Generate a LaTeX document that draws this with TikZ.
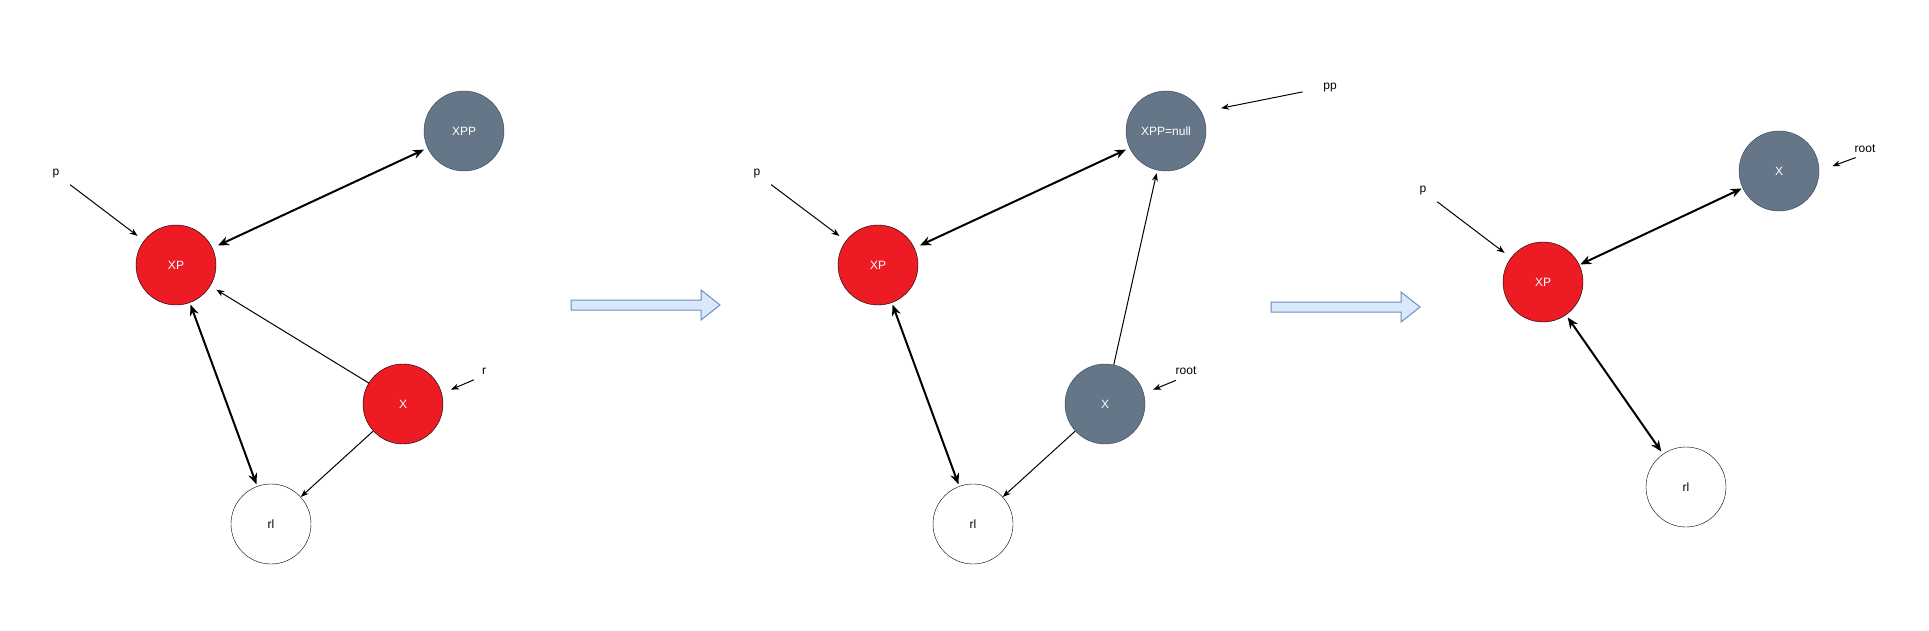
\documentclass[tikz,border=0pt]{standalone}
\usepackage{fontspec}
\setmainfont{Liberation Sans}
\usetikzlibrary{positioning}
\usetikzlibrary{arrows.meta}
\definecolor{xred}{HTML}{ED1C24}
\definecolor{xgray}{HTML}{647687}
\definecolor{xgraydraw}{HTML}{314354}
\definecolor{shiftfill}{HTML}{DAE8FC}
\definecolor{shiftdraw}{HTML}{6C8EBF}

\begin{document}
\begin{tikzpicture}[
            x=1pt, y=-1pt,
            font=\fontsize{12}{14}\selectfont,
            rednode/.style={circle, draw=black, fill=xred, text=white, minimum size=80pt, inner sep=0pt},
            graynode/.style={circle, draw=xgraydraw, fill=xgray, text=white, minimum size=80pt, inner sep=0pt},
            whitenode/.style={circle, draw=black, fill=white, minimum size=80pt, inner sep=0pt},
            pointer/.style={inner sep=1pt},
            thinlink/.style={-{Stealth[length=8pt, width=6pt, inset=2.5pt]}, line width=1pt},
            thicklink/.style={{Stealth[length=11pt, width=9pt, inset=3.5pt]}-{Stealth[length=11pt, width=9pt, inset=3.5pt]}, line width=2pt},
            shiftarrow/.style={draw=shiftdraw, fill=shiftfill, line width=1pt},
            ]
            \useasboundingbox (0,0) rectangle (1929,631);

            \node[graynode] (XPPa) at (464,131) {XPP};
            \node[rednode] (XPa) at (176,265) {XP};
            \node[rednode] (Xa) at (403,404) {X};
            \node[whitenode] (rla) at (271,524) {rl};
            \node[pointer] (pa) at (56,174) {p};
            \node[pointer] (ra) at (484,371) {r};

            \draw[thicklink, shorten <=6pt, shorten >=4pt] (XPa) -- (XPPa);
            \draw[thicklink, shorten <=2pt, shorten >=2pt] (XPa) -- (rla);
            \draw[thinlink, shorten >=7pt] (Xa) -- (XPa);
            \draw[thinlink] (Xa) -- (rla);
            \draw[thinlink, shorten <=12pt, shorten >=8pt] (pa) -- (XPa);
            \draw[thinlink, shorten <=11pt, shorten >=10pt] (ra.south) -- (Xa.15);

            \draw[shiftarrow] (571,300) -- ++(130,0) -- ++(0,-10) -- ++(19,15) -- ++(-19,15) -- ++(0,-10) -- ++(-130,0) -- cycle;

            \node[graynode] (XPPb) at (1166,131) {XPP=null};
            \node[rednode] (XPb) at (878,265) {XP};
            \node[graynode] (Xb) at (1105,404) {X};
            \node[whitenode] (rlb) at (973,524) {rl};
            \node[pointer] (pb) at (757,174) {p};
            \node[pointer] (rootb) at (1186,371) {root};
            \node[pointer] (ppb) at (1330,88) {pp};

            \draw[thicklink, shorten <=6pt, shorten >=4pt] (XPb) -- (XPPb);
            \draw[thicklink, shorten <=2pt, shorten >=2pt] (XPb) -- (rlb);
            \draw[thinlink, shorten >=3pt] (Xb) -- (XPPb);
            \draw[thinlink] (Xb) -- (rlb);
            \draw[thinlink, shorten <=12pt, shorten >=8pt] (pb) -- (XPb);
            \draw[thinlink, shorten <=11pt, shorten >=10pt] (rootb.south) -- (Xb.15);
            \draw[thinlink, shorten <=20pt, shorten >=20pt] (ppb.west) -- (XPPb.28);

            \draw[shiftarrow] (1271,302) -- ++(130,0) -- ++(0,-10) -- ++(19,15) -- ++(-19,15) -- ++(0,-10) -- ++(-130,0) -- cycle;

            \node[graynode] (Xc) at (1779,171) {X};
            \node[rednode] (XPc) at (1543,282) {XP};
            \node[whitenode] (rlc) at (1686,487) {rl};
            \node[pointer] (pc) at (1423,191) {p};
            \node[pointer] (rootc) at (1865,149) {root};

            \draw[thicklink, shorten <=1pt, shorten >=1pt] (XPc) -- (Xc);
            \draw[thicklink, shorten <=3pt, shorten >=3pt] (XPc) -- (rlc);
            \draw[thinlink, shorten <=12pt, shorten >=8pt] (pc) -- (XPc);
            \draw[thinlink, shorten <=10pt, shorten >=14pt] (rootc.south) -- (Xc.east);
        \end{tikzpicture}
\end{document}
